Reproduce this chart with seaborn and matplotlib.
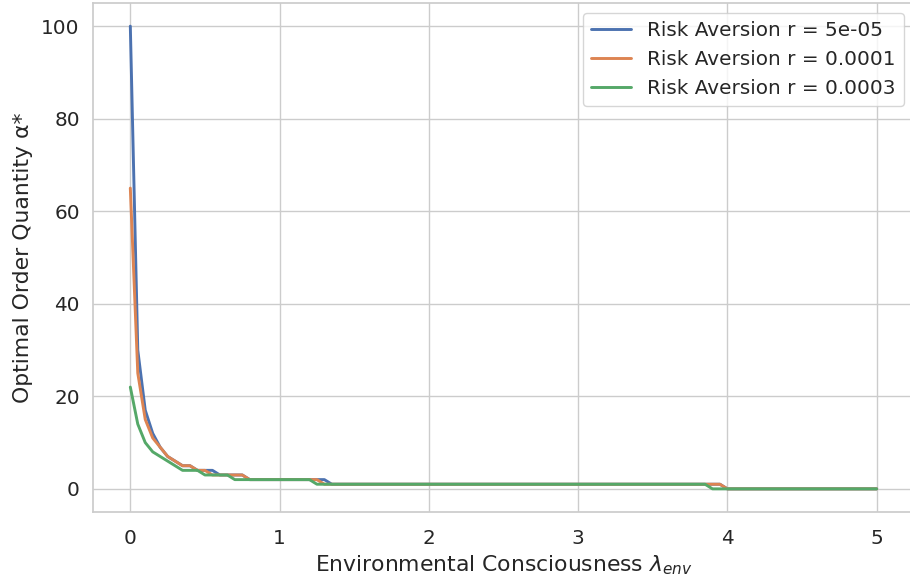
import numpy as np
import pandas as pd
import seaborn as sns
import matplotlib
matplotlib.use("Agg")
import matplotlib.pyplot as plt

# Environmental consciousness grid (0 to 5, step 0.05)
lambda_env = np.round(np.linspace(0, 5, 101), 2)

# Optimal order quantity for each risk aversion level
alpha_r1 = ([100, 30, 17, 12, 9, 7, 6, 5, 5, 4, 4, 4, 3, 3, 3, 3]
            + [2] * 11 + [1] * 53 + [0] * 21)
alpha_r2 = ([65, 25, 15, 11, 9, 7, 6, 5, 5, 4, 4, 3, 3, 3, 3, 3]
            + [2] * 10 + [1] * 54 + [0] * 21)
alpha_r3 = ([22, 14, 10, 8, 7, 6, 5, 4, 4, 4, 3, 3, 3, 3]
            + [2] * 11 + [1] * 53 + [0] * 23)

labels = ["Risk Aversion r = 5e-05", "Risk Aversion r = 0.0001",
          "Risk Aversion r = 0.0003"]

df = pd.concat([
    pd.DataFrame({"lambda": lambda_env, "alpha": a, "series": lab})
    for a, lab in zip([alpha_r1, alpha_r2, alpha_r3], labels)
], ignore_index=True)

sns.set_theme(style="whitegrid", font_scale=1.31)
plt.rcParams['font.family'] = ['DejaVu Sans']

fig = plt.figure(figsize=(9.1, 5.86), dpi=100)
ax = fig.add_axes([93 / 910, (586 - 512) / 586, 821 / 910, 509 / 586])
sns.lineplot(data=df, x="lambda", y="alpha", hue="series", ax=ax,
             linewidth=2.1)
ax.set_xlabel(r"Environmental Consciousness $\lambda_{env}$")
ax.set_ylabel("Optimal Order Quantity α*", labelpad=6)
ax.tick_params(axis="x", pad=6)
ax.legend(loc="upper right", title=None)
fig.savefig("out.png", dpi=100)
